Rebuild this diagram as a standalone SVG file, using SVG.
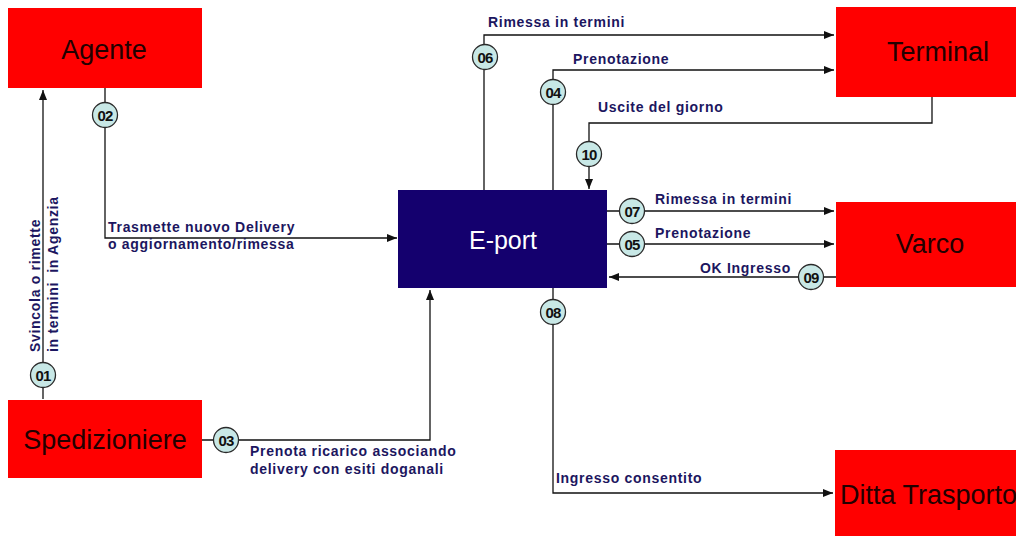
<svg xmlns="http://www.w3.org/2000/svg" width="1016" height="536" viewBox="0 0 1016 536">
<style>
.node{fill:#ff0000}
.nlabel{font-family:"Liberation Sans",Arial,sans-serif;font-size:27px;fill:#220000;text-anchor:middle}
.elabel{font-family:"Liberation Sans",Arial,sans-serif;font-size:14px;font-weight:bold;fill:#1c1660;letter-spacing:0.7px}
.conn{fill:none;stroke:#111;stroke-width:1.3}
.badge circle{fill:#c8e8e6;stroke:#2a2a2a;stroke-width:1.3}
.badge text{font-family:"Liberation Sans",Arial,sans-serif;font-size:15px;font-weight:bold;fill:#111;text-anchor:middle;letter-spacing:-0.8px}
</style>
<defs>
<marker id="ah" viewBox="0 0 10 10" refX="10" refY="5" markerWidth="10" markerHeight="10" markerUnits="userSpaceOnUse" orient="auto">
<path d="M0,1 L10,5 L0,9 Z" fill="#111"/>
</marker>
</defs>
<rect width="1016" height="536" fill="#fff"/>

<g id="connectors">
<path class="conn" d="M43,399 V90" marker-end="url(#ah)"/>
<path class="conn" d="M105,88 V238 H397" marker-end="url(#ah)"/>
<path class="conn" d="M202,440 H430 V290" marker-end="url(#ah)"/>
<path class="conn" d="M484,190 V35 H834" marker-end="url(#ah)"/>
<path class="conn" d="M553,190 V70 H834" marker-end="url(#ah)"/>
<path class="conn" d="M932,97 V123 H589 V189" marker-end="url(#ah)"/>
<path class="conn" d="M607,211 H834" marker-end="url(#ah)"/>
<path class="conn" d="M607,244 H834" marker-end="url(#ah)"/>
<path class="conn" d="M836,277 H609" marker-end="url(#ah)"/>
<path class="conn" d="M553,288 V493 H833" marker-end="url(#ah)"/>
</g>

<g id="agente"><rect class="node" x="8" y="8" width="194" height="80"/><text class="nlabel" x="104" y="59">Agente</text></g>
<g id="spedizioniere"><rect class="node" x="8" y="400" width="194" height="78"/><text class="nlabel" x="105" y="449">Spedizioniere</text></g>
<g id="eport"><rect x="398" y="190" width="209" height="98" fill="#14006e"/><text x="503" y="249" font-family="Liberation Sans,Arial,sans-serif" font-size="25" fill="#fff" text-anchor="middle">E-port</text></g>
<g id="terminal"><rect class="node" x="836" y="7" width="180" height="90"/><text class="nlabel" x="938" y="61">Terminal</text></g>
<g id="varco"><rect class="node" x="836" y="202" width="180" height="85"/><text class="nlabel" x="930" y="253">Varco</text></g>
<g id="ditta"><rect class="node" x="835" y="450" width="181" height="86"/><text class="nlabel" x="840" y="504" style="text-anchor:start">Ditta Trasporto</text></g>

<g id="labels">
<text class="elabel" transform="translate(40,352) rotate(-90)">Svincola o rimette</text>
<text class="elabel" transform="translate(58,352) rotate(-90)" xml:space="preserve">in termini  in Agenzia</text>
<text class="elabel" x="108" y="232">Trasmette nuovo Delivery</text>
<text class="elabel" x="108" y="249">o aggiornamento/rimessa</text>
<text class="elabel" x="250" y="456">Prenota ricarico associando</text>
<text class="elabel" x="250" y="474">delivery con esiti doganali</text>
<text class="elabel" x="488" y="27">Rimessa in termini</text>
<text class="elabel" x="573" y="64">Prenotazione</text>
<text class="elabel" x="598" y="112">Uscite del giorno</text>
<text class="elabel" x="655" y="204">Rimessa in termini</text>
<text class="elabel" x="655" y="238">Prenotazione</text>
<text class="elabel" x="700" y="273">OK Ingresso</text>
<text class="elabel" x="556" y="483">Ingresso consentito</text>
</g>

<g id="badges">
<g class="badge"><circle cx="43" cy="375" r="12.5"/><text x="43" y="380.5">01</text></g>
<g class="badge"><circle cx="105" cy="115" r="12.5"/><text x="105" y="120.5">02</text></g>
<g class="badge"><circle cx="226" cy="440" r="12.5"/><text x="226" y="445.5">03</text></g>
<g class="badge"><circle cx="553" cy="92" r="12.5"/><text x="553" y="97.5">04</text></g>
<g class="badge"><circle cx="632" cy="244" r="12.5"/><text x="632" y="249.5">05</text></g>
<g class="badge"><circle cx="485" cy="57" r="12.5"/><text x="485" y="62.5">06</text></g>
<g class="badge"><circle cx="632" cy="211" r="12.5"/><text x="632" y="216.5">07</text></g>
<g class="badge"><circle cx="553" cy="312" r="12.5"/><text x="553" y="317.5">08</text></g>
<g class="badge"><circle cx="811" cy="277" r="12.5"/><text x="811" y="282.5">09</text></g>
<g class="badge"><circle cx="589" cy="154" r="12.5"/><text x="589" y="159.5">10</text></g>
</g>
</svg>
